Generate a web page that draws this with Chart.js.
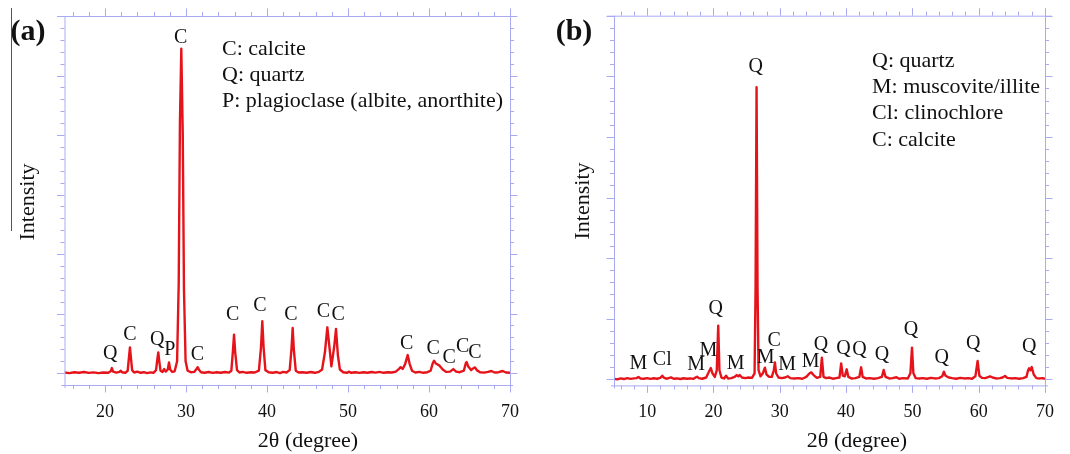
<!DOCTYPE html>
<html><head><meta charset="utf-8">
<script src="https://cdn.jsdelivr.net/npm/chart.js@4/dist/chart.umd.min.js"></script>
<style>
html,body{margin:0;padding:0;background:#fff;}
#wrap{position:relative;width:1070px;height:454px;overflow:hidden;background:#fff;}
.pane{position:absolute;top:0;width:535px;height:454px;}
</style></head><body>
<div id="wrap">
  <div class="pane" style="left:0"><canvas id="ca" width="535" height="454"></canvas></div>
  <div class="pane" style="left:535px"><canvas id="cb" width="535" height="454"></canvas></div>
</div>
<script>
// ---------- Panel (a) data ----------
const thetaA = [15.0,15.6,16.2,16.8,17.4,18.0,18.6,19.2,19.8,20.4,20.7,20.85,21.0,21.4,21.8,21.95,22.1,22.5,22.8,22.95,23.08,23.2,23.35,23.6,24.0,24.4,24.8,25.2,25.6,26.0,26.3,26.45,26.58,26.7,26.85,27.1,27.3,27.5,27.75,27.9,28.05,28.3,28.6,28.9,29.1,29.25,29.42,29.6,29.75,29.95,30.2,30.6,31.0,31.25,31.44,31.6,31.85,32.3,32.8,33.3,33.8,34.3,34.8,35.3,35.6,35.78,35.93,36.08,36.3,36.6,37.0,37.5,38.0,38.5,39.0,39.25,39.42,39.58,39.8,40.2,40.7,41.2,41.6,42.0,42.4,42.8,43.02,43.17,43.32,43.55,43.9,44.4,44.9,45.4,45.9,46.4,46.8,47.15,47.45,47.7,47.95,48.3,48.52,48.75,49.0,49.4,49.9,50.1,50.4,50.9,51.4,51.9,52.4,52.9,53.4,53.9,54.4,54.9,55.4,55.9,56.3,56.5,56.75,57.05,57.37,57.6,57.9,58.3,58.8,59.3,59.8,60.2,60.45,60.62,60.85,61.3,61.7,62.1,62.6,63.0,63.35,63.8,64.3,64.55,64.65,64.85,65.2,65.5,65.68,65.9,66.3,66.8,67.3,67.7,68.1,68.6,69.1,69.5,70.0];
const intensityA = [10,0,15,5,18,3,12,0,10,5,30,84,25,8,20,40,15,5,40,250,432,260,50,10,25,5,15,0,12,5,50,220,348,200,40,20,67,25,60,180,60,20,30,200,1500,4200,5450,4000,1400,200,40,15,20,60,100,55,15,5,18,3,15,5,18,8,40,350,645,340,50,10,20,5,15,10,40,420,870,430,50,15,5,18,0,20,10,50,400,758,380,40,10,15,5,18,5,20,60,350,769,450,112,450,741,300,60,15,5,25,5,15,3,15,5,18,8,20,5,15,10,25,70,100,70,150,303,160,40,10,20,5,15,40,160,208,160,125,60,20,25,67,25,15,40,170,185,110,50,85,95,50,15,8,20,35,10,15,35,10,5];
const xTicksA = [20,30,40,50,60,70];
const peakLabelA = ['Q','C','Q','P','C','C','C','C','C','C','C','C','C','C','C','C'];
const peakLabelXA = [20.63,23.09,26.46,28.0,29.35,31.4,35.76,39.14,42.96,46.95,48.8,57.24,60.53,62.5,64.15,65.68];
const peakLabelYA = [320,640,567,387,5640,303,976,1128,976,1032,976,500,416,264,443,342];
const legendA = ['C: calcite','Q: quartz','P: plagioclase (albite, anorthite)'];

// ---------- Panel (b) data ----------
const thetaB = [5.0,5.5,6.0,6.5,7.0,7.5,8.0,8.4,8.7,9.0,9.5,10.0,10.5,11.0,11.5,12.0,12.28,12.55,13.0,13.6,14.0,14.5,15.0,15.5,16.0,16.5,17.0,17.3,17.52,17.8,18.3,18.9,19.3,19.6,19.85,20.2,20.5,20.72,20.9,21.2,21.6,21.9,22.2,22.7,23.2,23.5,23.75,23.95,24.3,24.8,25.3,25.8,26.2,26.35,26.5,26.65,26.8,27.1,27.45,27.76,28.0,28.4,28.8,29.1,29.27,29.45,29.8,30.3,30.8,31.2,31.6,32.2,32.8,33.4,34.0,34.5,34.75,35.1,35.6,36.1,36.35,36.6,37.0,37.5,38.0,38.5,39.0,39.26,39.5,39.8,40.09,40.35,40.8,41.4,42.0,42.27,42.5,43.0,43.6,44.2,44.8,45.4,45.67,45.95,46.5,47.0,47.6,48.0,48.6,49.3,49.7,49.94,50.15,50.5,51.0,51.6,52.2,52.8,53.4,54.0,54.5,54.75,55.0,55.5,56.0,56.6,57.2,57.8,58.4,59.0,59.5,59.84,60.1,60.5,61.0,61.4,61.7,62.1,62.6,63.2,63.6,63.97,64.3,64.9,65.5,66.1,66.7,67.2,67.45,67.6,67.8,68.0,68.3,68.7,69.2,69.6,70.0];
const intensityB = [10,0,15,5,20,8,15,20,38,15,10,20,8,18,10,25,60,25,10,33,10,15,5,18,10,15,8,30,44,20,10,30,120,187,100,40,150,886,150,30,15,60,15,20,40,70,50,72,30,20,30,25,100,1500,4820,1500,150,50,100,193,80,40,40,150,280,100,30,20,30,50,20,15,20,10,40,100,115,70,25,40,357,40,20,30,10,20,30,264,60,50,165,40,15,20,40,198,40,15,20,10,20,40,154,40,15,20,35,10,20,15,100,523,100,20,15,20,10,25,15,20,50,127,60,30,20,10,25,15,20,10,50,302,60,25,20,35,50,30,15,20,30,55,25,15,20,10,20,40,150,182,150,203,80,20,15,20,10];
const xTicksB = [10,20,30,40,50,60,70];
const peakLabelB = ['M','Cl','M','M','Q','M','Q','M','C','M','M','Q','Q','Q','Q','Q','Q','Q','Q'];
const peakLabelXB = [8.68,12.28,17.37,19.22,20.33,23.35,26.37,27.86,29.17,31.1,34.66,36.2,39.6,42.03,45.43,49.8,54.41,59.17,67.61];
const peakLabelYB = [264,318,247,472,1171,264,5150,357,632,247,290,566,512,483,401,814,363,583,538];
const legendB = ['Q: quartz','M: muscovite/illite','Cl: clinochlore','C: calcite'];

// ---------- styling ----------
const SERIF = '"Liberation Serif","Times New Roman",serif';
const FRAME = '#a9abf2';
const RED = '#e5141b';

function pts(xs, ys){ return xs.map((v,i)=>({x:v, y:ys[i]})); }

function makeChart(id, o){
  const frame = {
    id:'frame',
    afterDraw(chart){
      const {ctx, chartArea:a, scales:{x,y}} = chart;
      ctx.save();
      ctx.strokeStyle = FRAME; ctx.lineWidth = 1;
      const L = a.left, R = a.right, T = a.top, B = a.bottom;
      ctx.beginPath();
      ctx.moveTo(L-7, T+0.5); ctx.lineTo(R+7, T+0.5);
      ctx.moveTo(L-3, B+0.5); ctx.lineTo(R+3, B+0.5);
      ctx.moveTo(L+0.5, T); ctx.lineTo(L+0.5, B+3);
      ctx.moveTo(R+0.5, T-7); ctx.lineTo(R+0.5, B+3);
      for (let v = o.xMinorStart; v <= o.xMax + 1e-6; v += 2){
        const px = Math.round(x.getPixelForValue(v)) + 0.5;
        const major = Math.abs(v % 10) < 1e-6;
        const len = major ? 7.5 : 4;
        ctx.moveTo(px, T); ctx.lineTo(px, T - len);
        ctx.moveTo(px, B); ctx.lineTo(px, B + len);
      }
      for (let v = 0; v <= 6000 + 1e-6; v += 200){
        const py = Math.round(y.getPixelForValue(v)) + 0.5;
        const major = (v % 1000) === 0;
        const len = major ? 7.5 : 4;
        ctx.moveTo(L, py); ctx.lineTo(L - len, py);
        ctx.moveTo(R, py); ctx.lineTo(R + len, py);
      }
      ctx.stroke();

      ctx.fillStyle = '#111';
      ctx.textAlign = 'center'; ctx.textBaseline = 'middle';
      ctx.font = '20px ' + SERIF;
      o.labels.forEach((t,i)=>{
        ctx.fillText(t, x.getPixelForValue(o.labelX[i]), y.getPixelForValue(o.labelY[i]));
      });
      ctx.textAlign = 'left';
      ctx.font = '22px ' + SERIF;
      o.legend.forEach((t,i)=>{ ctx.fillText(t, o.legX, o.legY + i*26.3); });
      ctx.font = 'bold 30px ' + SERIF;
      ctx.textAlign = 'center';
      ctx.fillText(o.tag, o.tagX, o.tagY);
      ctx.font = '22px ' + SERIF;
      ctx.fillText('2θ (degree)', o.xtX, o.xtY);
      ctx.save();
      ctx.translate(o.ytX, o.ytY); ctx.rotate(-Math.PI/2);
      ctx.fillText('Intensity', 0, 0);
      ctx.restore();
      if (o.sideLine){
        ctx.strokeStyle = '#555'; ctx.lineWidth = 1;
        ctx.beginPath(); ctx.moveTo(11.5, 8); ctx.lineTo(11.5, 231); ctx.stroke();
      }
      ctx.restore();
    }
  };
  return new Chart(document.getElementById(id), {
    type:'line',
    data:{ datasets:[{ data: pts(o.xs, o.ys), borderColor: RED, borderWidth: 2.4, pointRadius: 0, tension: 0, fill:false, borderJoinStyle:'round' }]},
    options:{
      responsive:false, animation:false, devicePixelRatio:1,
      layout:{ padding:{ left:o.padL, right:o.padR, top:o.padT, bottom:0 } },
      plugins:{ legend:{display:false}, tooltip:{enabled:false} },
      scales:{
        x:{ type:'linear', min:o.xMin, max:o.xMax,
            grid:{ display:false, drawTicks:false }, border:{ display:false },
            afterBuildTicks: s => { s.ticks = o.xTicks.map(v=>({value:v})); },
            afterFit: s => { s.height = o.axisH; },
            ticks:{ autoSkip:false, maxRotation:0, padding:o.tickPad, color:'#111', font:{ family:SERIF, size:18 } } },
        y:{ type:'linear', display:false, min:o.yMin, max:6000 }
      }
    },
    plugins:[frame]
  });
}

makeChart('ca', { xs:thetaA, ys:intensityA, xMin:15, xMax:70, xMinorStart:16, xTicks:xTicksA, yMin:-200,
  padL:64.5, padR:25, padT:16, axisH:69, tickPad:16,
  labels:peakLabelA, labelX:peakLabelXA, labelY:peakLabelYA,
  legend:legendA, legX:222, legY:49,
  tag:'(a)', tagX:28, tagY:32, xtX:308, xtY:441, ytX:28.5, ytY:202, sideLine:true });

makeChart('cb', { xs:thetaB, ys:intensityB, xMin:5, xMax:70, xMinorStart:6, xTicks:xTicksB, yMin:-100,
  padL:79, padR:9.5, padT:15.7, axisH:68.6, tickPad:16,
  labels:peakLabelB, labelX:peakLabelXB, labelY:peakLabelYB,
  legend:legendB, legX:337, legY:61,
  tag:'(b)', tagX:39, tagY:32.5, xtX:322, xtY:441, ytX:48.3, ytY:201, sideLine:false });
</script>
</body></html>
